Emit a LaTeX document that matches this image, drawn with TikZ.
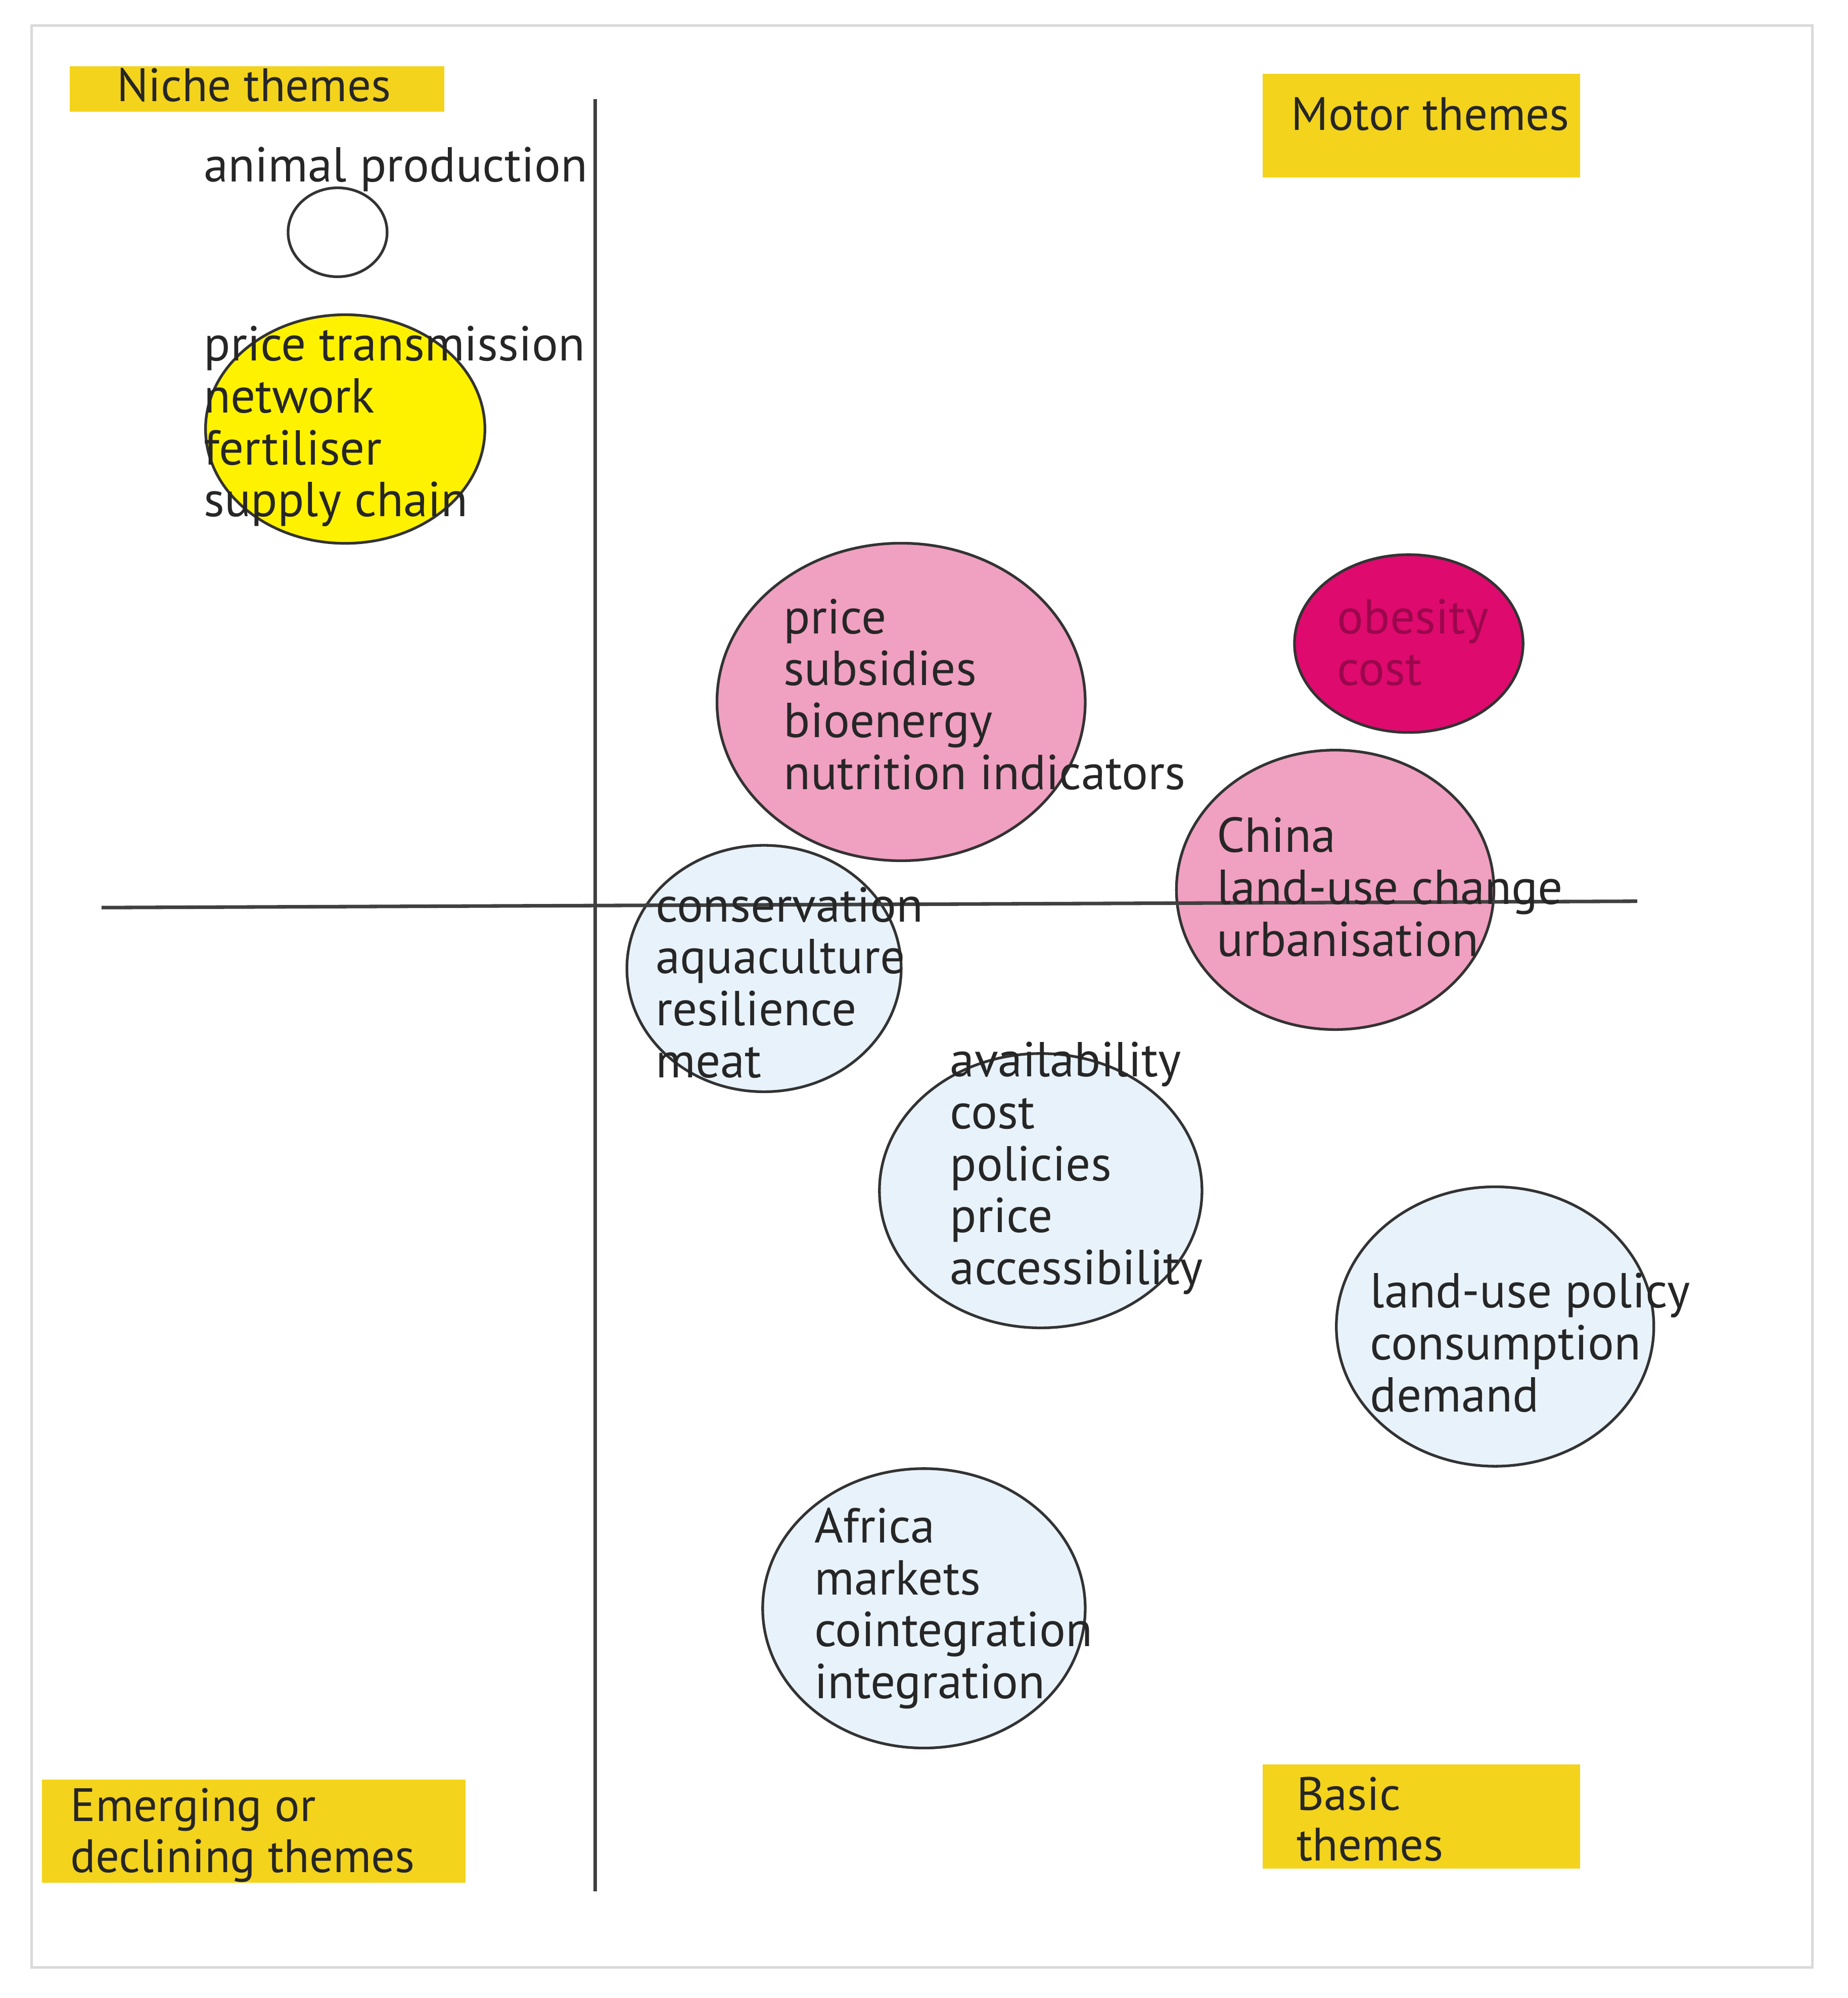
\documentclass[tikz,border=0pt]{standalone}
\usepackage{fontspec}
\setmainfont{PT Sans}
\usetikzlibrary{shapes.geometric}
\definecolor{lab}{HTML}{F3D31C}
\definecolor{pinkc}{HTML}{F0A0C0}
\definecolor{magc}{HTML}{DE0A6E}
\definecolor{bluec}{HTML}{E8F2FA}
\definecolor{yelc}{HTML}{FFF200}
\begin{document}
\begin{tikzpicture}[x=0.01cm,y=-0.01cm,
  bub/.style={ellipse,draw=black!80,line width=0.6pt,inner sep=0pt},
  txt/.style={anchor=north west,align=left,inner sep=0pt,font=\fontsize{11}{11.65}\selectfont,text=black!85},
  labbox/.style={fill=lab,draw=none},
  labtxt/.style={align=left,inner sep=0pt,font=\fontsize{10.5}{11.4}\selectfont,text=black!85}]
\useasboundingbox (0,0) rectangle (1456,1574);
\fill[white] (0,0) rectangle (1456,1574);
\draw[black!15,line width=0.6pt] (25,20) rectangle (1428,1550);
% bubbles
\node[bub,fill=white,minimum width=0.78cm,minimum height=0.70cm] (b1) at (266,183) {};
\node[bub,fill=yelc,minimum width=2.20cm,minimum height=1.80cm] (b2) at (272,338) {};
\node[bub,fill=pinkc,minimum width=2.90cm,minimum height=2.50cm] (b3) at (710,553) {};
\node[bub,fill=magc,minimum width=1.80cm,minimum height=1.40cm] (b4) at (1110,507) {};
\node[bub,fill=pinkc,minimum width=2.50cm,minimum height=2.20cm] (b5) at (1052,701) {};
\node[bub,fill=bluec,minimum width=2.16cm,minimum height=1.94cm] (b6) at (602,763) {};
\node[bub,fill=bluec,minimum width=2.54cm,minimum height=2.16cm] (b7) at (820,938) {};
\node[bub,fill=bluec,minimum width=2.50cm,minimum height=2.20cm] (b8) at (1178,1045) {};
\node[bub,fill=bluec,minimum width=2.54cm,minimum height=2.20cm] (b9) at (728,1267) {};
% axes
\coordinate (vt) at (469,78); \coordinate (vb) at (469,1490);
\coordinate (hl) at (80,715); \coordinate (hr) at (1290,710);
\draw[black!75,line width=0.8pt] (vt) -- (vb);
\draw[black!75,line width=0.8pt] (hl) -- (hr);
% texts
\node[txt] (t1) at (160,115) {animal production};
\node[txt] (t2) at (160,256) {price transmission\\network\\fertiliser\\supply chain};
\node[txt] (t3) at (617,471) {price\\subsidies\\bioenergy\\nutrition indicators};
\node[txt,text=magc!70!black] (t4) at (1053,471) {obesity\\cost};
\node[txt] (t5) at (958,643) {China\\land-use change\\urbanisation};
\node[txt] (t6) at (516,698) {conservation\\aquaculture\\resilience\\meat};
\node[txt] (t7) at (748,820) {availability\\cost\\policies\\price\\accessibility};
\node[txt] (t8) at (1079,1002) {land-use policy\\consumption\\demand};
\node[txt] (t9) at (641,1187) {Africa\\markets\\cointegration\\integration};
% quadrant labels
\fill[labbox] (55,52) rectangle (350,88);
\node[labtxt] (l1) at (200,67) {Niche themes};
\fill[labbox] (995,58) rectangle (1245,140);
\node[labtxt] (l2) at (1127,90) {Motor themes};
\fill[labbox] (33,1402) rectangle (367,1483);
\node[labtxt,anchor=north west] (l3) at (55,1408) {Emerging or\\declining themes};
\fill[labbox] (995,1390) rectangle (1245,1472);
\node[labtxt,anchor=north west] (l4) at (1021,1399) {Basic\\themes};
\end{tikzpicture}
\end{document}
